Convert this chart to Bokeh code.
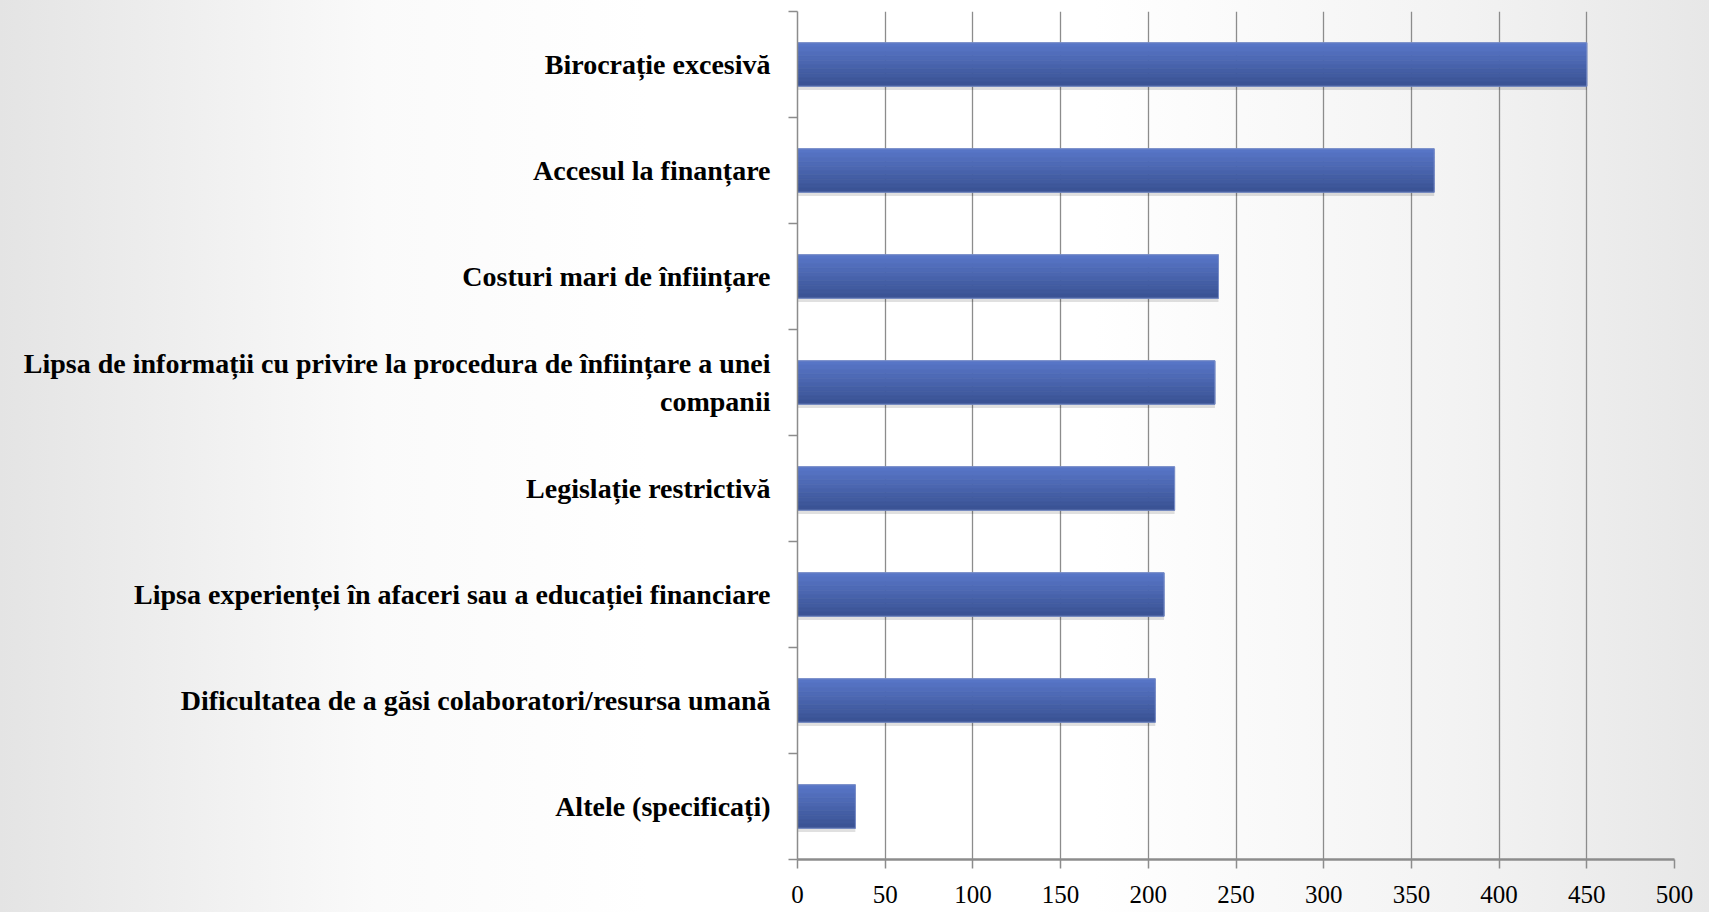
from bokeh.plotting import figure
from bokeh.models import Range1d, FixedTicker, LinearAxis
from bokeh.embed import file_html
from bokeh.resources import INLINE

# ---- data (top to bottom as in the chart) ----
categories = [
    "Birocrație excesivă",
    "Accesul la finanțare",
    "Costuri mari de înființare",
    "Lipsa de informații cu privire la procedura de înființare a unei\ncompanii",
    "Legislație restrictivă",
    "Lipsa experienței în afaceri sau a educației financiare",
    "Dificultatea de a găsi colaboratori/resursa umană",
    "Altele (specificați)",
]
values = [450, 363, 240, 238, 215, 209, 204, 33]
x_ticks = [0, 50, 100, 150, 200, 250, 300, 350, 400, 450, 500]

n = len(categories)
ypos = [n - i - 0.5 for i in range(n)]
boundaries = list(range(n + 1))

FONT = "Liberation Serif"
GRAY = "#8c8c8c"

p = figure(
    width=1709, height=912,
    x_range=Range1d(0, 500), y_range=Range1d(0, n),
    output_backend="svg", toolbar_location=None,
    min_border_left=797, min_border_right=35,
    min_border_top=11, min_border_bottom=53,
    x_axis_location="below", y_axis_type=None,
)
p.background_fill_color = None
p.border_fill_color = None
p.outline_line_color = None
p.styles = {
    "background": "linear-gradient(90deg, #e4e4e4 0%, #fafafa 22%, #ffffff 38%, #ffffff 64%, #f3f3f3 85%, #e7e7e7 100%)"
}

# ---- bars: shadow, gradient slices, outline ----
bar_h = 0.41
p.hbar(y=[y - 0.035 for y in ypos], left=0, right=values, height=bar_h,
       fill_color="#000000", fill_alpha=0.12, line_color=None)

top_c = (0x57, 0x75, 0xc6)
bot_c = (0x3b, 0x53, 0x95)
k = 10
for j in range(k):
    t = j / (k - 1)
    c = tuple(int(round(top_c[m] + (bot_c[m] - top_c[m]) * t)) for m in range(3))
    col = "#%02x%02x%02x" % c
    yc = [y + bar_h / 2 - (j + 0.5) * bar_h / k for y in ypos]
    p.hbar(y=yc, left=0, right=values, height=bar_h / k,
           fill_color=col, line_color=col, line_width=0.8)

p.hbar(y=ypos, left=0, right=values, height=bar_h,
       fill_color=None, line_color="#7b8fc8", line_width=1)

# ---- x axis ----
xa = p.xaxis[0]
xa.ticker = FixedTicker(ticks=x_ticks)
xa.axis_line_color = GRAY
xa.axis_line_width = 2.5
xa.major_tick_line_color = GRAY
xa.major_tick_line_width = 1.5
xa.major_tick_out = 9
xa.major_tick_in = 0
xa.minor_tick_line_color = None
xa.major_label_text_font = FONT
xa.major_label_text_font_size = "25px"
xa.major_label_text_color = "#000000"
xa.major_label_standoff = 17

# ---- y axis ----
ya = LinearAxis(
    ticker=FixedTicker(ticks=ypos, minor_ticks=boundaries),
    major_label_overrides={y: c for y, c in zip(ypos, categories)},
)
ya.axis_line_color = GRAY
ya.axis_line_width = 1.5
ya.major_tick_line_color = None
ya.major_tick_out = 0
ya.major_tick_in = 0
ya.minor_tick_line_color = GRAY
ya.minor_tick_line_width = 1.5
ya.minor_tick_out = 9
ya.minor_tick_in = 0
ya.major_label_text_font = FONT
ya.major_label_text_font_size = "28px"
ya.major_label_text_font_style = "bold"
ya.major_label_text_color = "#000000"
ya.major_label_standoff = 18
ya.major_label_text_line_height = 1.25
p.add_layout(ya, "left")

# ---- grid ----
p.xgrid.ticker = FixedTicker(ticks=x_ticks)
p.xgrid.grid_line_color = GRAY
p.xgrid.grid_line_width = 1.3
p.ygrid.visible = False

open("out.html", "w").write(file_html(p, INLINE))
